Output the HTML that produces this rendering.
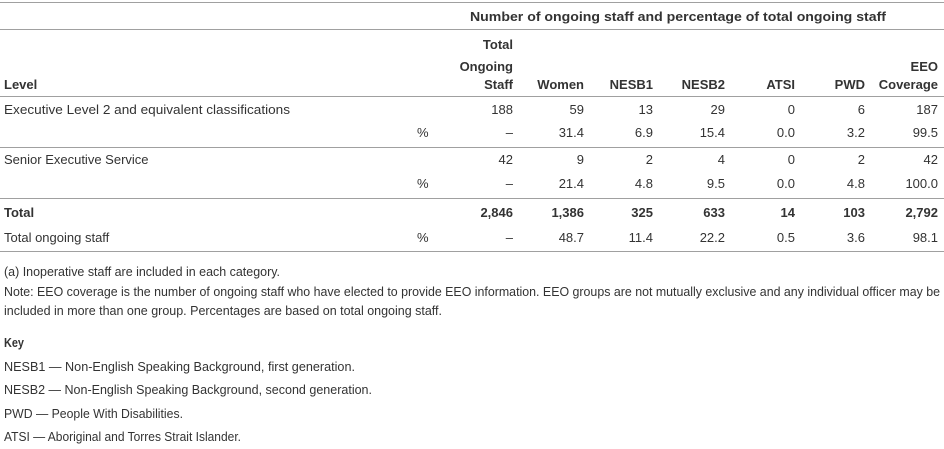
<!DOCTYPE html>
<html><head><meta charset="utf-8"><style>
html,body{margin:0;padding:0;background:#fff}
svg{display:block}
text{font-family:"Liberation Sans",sans-serif;fill:#333;font-size:13px}
.b{font-weight:bold}
.r{text-anchor:end}
.f{font-size:12.5px}
</style></head><body>
<svg width="944" height="449" viewBox="0 0 944 449">
<g stroke="#a0a0a0" stroke-width="1">
<line x1="0" y1="2.5" x2="944" y2="2.5"/>
<line x1="0" y1="29.5" x2="944" y2="29.5"/>
<line x1="0" y1="96.5" x2="944" y2="96.5"/>
<line x1="0" y1="147.5" x2="944" y2="147.5"/>
<line x1="0" y1="198.5" x2="944" y2="198.5"/>
<line x1="0" y1="251.5" x2="944" y2="251.5"/>
</g>
<text class="b" x="470" y="21" textLength="416" lengthAdjust="spacingAndGlyphs">Number of ongoing staff and percentage of total ongoing staff</text>
<text class="b" x="4" y="89">Level</text>
<text class="r b" x="513" y="49">Total</text>
<text class="r b" x="513" y="71">Ongoing</text>
<text class="r b" x="513" y="89">Staff</text>
<text class="r b" x="584" y="89">Women</text>
<text class="r b" x="653" y="89">NESB1</text>
<text class="r b" x="725" y="89">NESB2</text>
<text class="r b" x="795" y="89">ATSI</text>
<text class="r b" x="865" y="89">PWD</text>
<text class="r b" x="938" y="71">EEO</text>
<text class="r b" x="938" y="89">Coverage</text>
<text x="4" y="114" textLength="286" lengthAdjust="spacingAndGlyphs">Executive Level 2 and equivalent classifications</text>
<text x="4" y="164">Senior Executive Service</text>
<text class="b" x="4" y="217">Total</text>
<text x="4" y="242">Total ongoing staff</text>
<text x="417" y="137">%</text>
<text x="417" y="188">%</text>
<text x="417" y="242">%</text>
<g>
<text class="r" x="513" y="114">188</text><text class="r" x="584" y="114">59</text><text class="r" x="653" y="114">13</text><text class="r" x="725" y="114">29</text><text class="r" x="795" y="114">0</text><text class="r" x="865" y="114">6</text><text class="r" x="938" y="114">187</text>
<text class="r" x="513" y="137">–</text><text class="r" x="584" y="137">31.4</text><text class="r" x="653" y="137">6.9</text><text class="r" x="725" y="137">15.4</text><text class="r" x="795" y="137">0.0</text><text class="r" x="865" y="137">3.2</text><text class="r" x="938" y="137">99.5</text>
<text class="r" x="513" y="164">42</text><text class="r" x="584" y="164">9</text><text class="r" x="653" y="164">2</text><text class="r" x="725" y="164">4</text><text class="r" x="795" y="164">0</text><text class="r" x="865" y="164">2</text><text class="r" x="938" y="164">42</text>
<text class="r" x="513" y="188">–</text><text class="r" x="584" y="188">21.4</text><text class="r" x="653" y="188">4.8</text><text class="r" x="725" y="188">9.5</text><text class="r" x="795" y="188">0.0</text><text class="r" x="865" y="188">4.8</text><text class="r" x="938" y="188">100.0</text>
<text class="r b" x="513" y="217">2,846</text><text class="r b" x="584" y="217">1,386</text><text class="r b" x="653" y="217">325</text><text class="r b" x="725" y="217">633</text><text class="r b" x="795" y="217">14</text><text class="r b" x="865" y="217">103</text><text class="r b" x="938" y="217">2,792</text>
<text class="r" x="513" y="242">–</text><text class="r" x="584" y="242">48.7</text><text class="r" x="653" y="242">11.4</text><text class="r" x="725" y="242">22.2</text><text class="r" x="795" y="242">0.5</text><text class="r" x="865" y="242">3.6</text><text class="r" x="938" y="242">98.1</text>
</g>
<text class="f" x="4" y="276" textLength="276" lengthAdjust="spacingAndGlyphs">(a) Inoperative staff are included in each category.</text>
<text class="f" x="4" y="296" textLength="936" lengthAdjust="spacingAndGlyphs">Note: EEO coverage is the number of ongoing staff who have elected to provide EEO information. EEO groups are not mutually exclusive and any individual officer may be</text>
<text class="f" x="4" y="315" textLength="438" lengthAdjust="spacingAndGlyphs">included in more than one group. Percentages are based on total ongoing staff.</text>
<text class="f b" x="4" y="347" textLength="20" lengthAdjust="spacingAndGlyphs">Key</text>
<text class="f" x="4" y="371" textLength="351" lengthAdjust="spacingAndGlyphs">NESB1 — Non-English Speaking Background, first generation.</text>
<text class="f" x="4" y="394" textLength="368" lengthAdjust="spacingAndGlyphs">NESB2 — Non-English Speaking Background, second generation.</text>
<text class="f" x="4" y="418" textLength="179" lengthAdjust="spacingAndGlyphs">PWD — People With Disabilities.</text>
<text class="f" x="4" y="441" textLength="237" lengthAdjust="spacingAndGlyphs">ATSI — Aboriginal and Torres Strait Islander.</text>
</svg>
</body></html>
